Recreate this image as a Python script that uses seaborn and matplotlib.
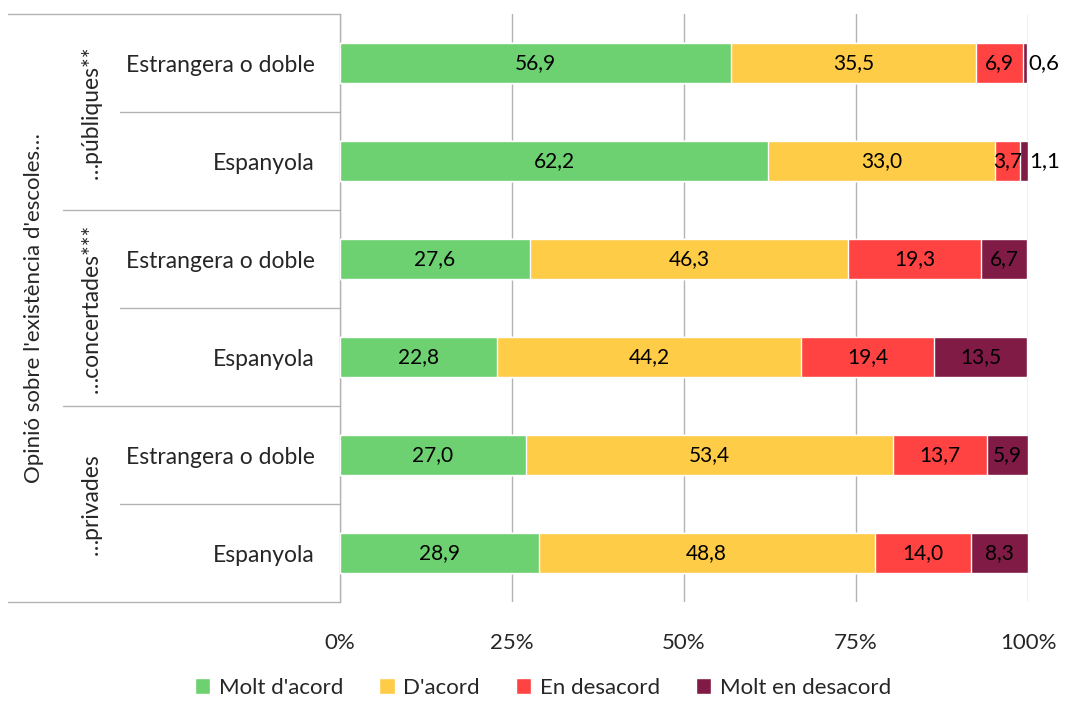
import matplotlib
matplotlib.use("Agg")
import matplotlib.pyplot as plt
import numpy as np
import pandas as pd
import seaborn as sns

# Data (percentages)
rows = ["Estrangera o doble", "Espanyola", "Estrangera o doble", "Espanyola",
        "Estrangera o doble", "Espanyola"]
groups = ["…públiques**", "…concertades***", "…privades"]
answers = ["Molt d'acord", "D'acord", "En desacord", "Molt en desacord"]
molt_acord = [56.9, 62.2, 27.6, 22.8, 27.0, 28.9]
acord = [35.5, 33.0, 46.3, 44.2, 53.4, 48.8]
desacord = [6.9, 3.7, 19.3, 19.4, 13.7, 14.0]
molt_desacord = [0.6, 1.1, 6.7, 13.5, 5.9, 8.3]
colors = ["#6dd071", "#ffcc47", "#ff4242", "#7f1b45"]

sns.set_theme(style="white")
plt.rcParams["font.family"] = ["Lato", "DejaVu Sans"]

table = pd.DataFrame({"row": [f"r{i}" for i in range(len(rows))],
                      answers[0]: molt_acord, answers[1]: acord,
                      answers[2]: desacord, answers[3]: molt_desacord})
cum = table[answers].cumsum(axis=1)

fig = plt.figure(figsize=(10.69, 7.01), dpi=100)
ax = fig.add_axes([340 / 1069, 1 - 602 / 701, 688 / 1069, 588 / 701])

# stacked bars: draw cumulative totals from the back
for i in reversed(range(len(answers))):
    sns.barplot(x=cum[answers[i]], y=table["row"], orient="h", color=colors[i],
                width=0.41, saturation=1, ax=ax, label=answers[i], zorder=3)

# segment labels
for r in range(len(rows)):
    left = 0
    for a in answers:
        v = table.loc[r, a]
        txt = f"{v:.1f}".replace(".", ",")
        if v < 2:
            ax.text(left + v + 0.2, r, txt, ha="left", va="center", fontsize=16, color="black", zorder=4)
        else:
            ax.text(left + v / 2, r, txt, ha="center", va="center", fontsize=15, color="black", zorder=4)
        left += v

ax.set_xlim(0, 100)
ax.set_ylim(5.5, -0.5)
ax.set_xticks([0, 25, 50, 75, 100])
ax.set_xticklabels(["0%", "25%", "50%", "75%", "100%"], fontsize=16)
ax.set_yticks(range(len(rows)))
ax.set_yticklabels(rows, fontsize=16.5)
ax.tick_params(axis="x", length=0, pad=22)
ax.tick_params(axis="y", length=0, pad=18)
ax.set_xlabel("")
ax.set_ylabel("")
ax.grid(axis="x", color="#b3b3b3", linewidth=1, zorder=0)
for s in ["top", "right", "bottom"]:
    ax.spines[s].set_visible(False)
ax.spines["left"].set_color("#b3b3b3")
ax.spines["left"].set_linewidth(1)

# separator lines on the category axis
tr = ax.get_yaxis_transform()
for y, x0 in [(-0.5, -0.4826), (0.5, -0.3198), (1.5, -0.4026), (2.5, -0.3198),
              (3.5, -0.4026), (4.5, -0.3198), (5.5, -0.4826)]:
    ax.plot([x0, 0], [y, y], transform=tr, color="#b3b3b3", linewidth=1, clip_on=False)

# group labels
for g, name in enumerate(groups):
    ax.text(-0.362, 2 * g + 0.5, name, transform=tr, rotation=90, ha="center", va="center", fontsize=16.5)
ax.text(-0.4448, 2.5, "Opinió sobre l'existència d'escoles…", transform=tr, rotation=90,
        ha="center", va="center", fontsize=16)

handles, labels = ax.get_legend_handles_labels()
order = [labels.index(a) for a in answers]
if ax.get_legend() is not None:
    ax.get_legend().remove()
fig.legend([handles[i] for i in order], answers, loc="center", bbox_to_anchor=(543 / 1069, 1 - 688 / 701),
           ncol=4, frameon=False, fontsize=16, handlelength=0.7, handleheight=0.7,
           handletextpad=0.4, columnspacing=1.6)

fig.savefig("out.png", dpi=100)
